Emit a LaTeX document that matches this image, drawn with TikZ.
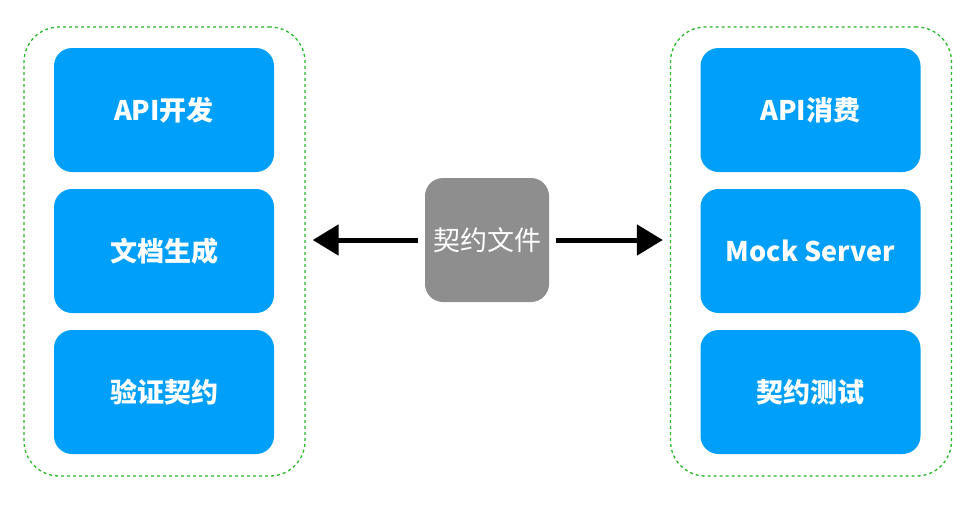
\documentclass[tikz,border=0pt]{standalone}
\usepackage{fontspec}
\setmainfont{Noto Sans CJK SC}
\usetikzlibrary{arrows.meta}
\definecolor{boxblue}{RGB}{0,160,250}
\definecolor{boxgray}{RGB}{142,142,142}
\definecolor{dashgreen}{RGB}{40,185,40}
\tikzset{
  container/.style={draw=dashgreen, line width=1.3pt, dash pattern=on 3pt off 3pt, rounded corners=35pt, minimum width=281pt, minimum height=449pt, inner sep=0pt},
  bluebox/.style={fill=boxblue, rounded corners=18pt, minimum width=220pt, minimum height=124pt, inner sep=0pt, text=white, font=\fontsize{27}{32}\selectfont\bfseries},
  graybox/.style={fill=boxgray, rounded corners=18pt, minimum width=124pt, minimum height=124pt, inner sep=0pt, text=white, font=\fontsize{27}{32}\selectfont},
  bigarrow/.style={line width=5pt, -{Triangle[length=26pt,width=30pt]}, shorten <=7pt, shorten >=7pt}
}
\begin{document}
\begin{tikzpicture}[x=1pt,y=-1pt]
\useasboundingbox (0,0) rectangle (974,504);
\node[container] (L) at (164.5,251.5) {};
\node[container] (R) at (811,251.5) {};
\node[bluebox] (a1) at (164,110) {API开发};
\node[bluebox] (a2) at (164,251) {文档生成};
\node[bluebox] (a3) at (164,392) {验证契约};
\node[bluebox] (b1) at (810.5,110) {API消费};
\node[bluebox] (b2) at (810.5,251) {Mock Server};
\node[bluebox] (b3) at (810.5,392) {契约测试};
\node[graybox] (c) at (487,240) {契约文件};
\draw[bigarrow] (c.west) -- (c.west -| L.east);
\draw[bigarrow] (c.east) -- (c.east -| R.west);
\end{tikzpicture}
\end{document}
